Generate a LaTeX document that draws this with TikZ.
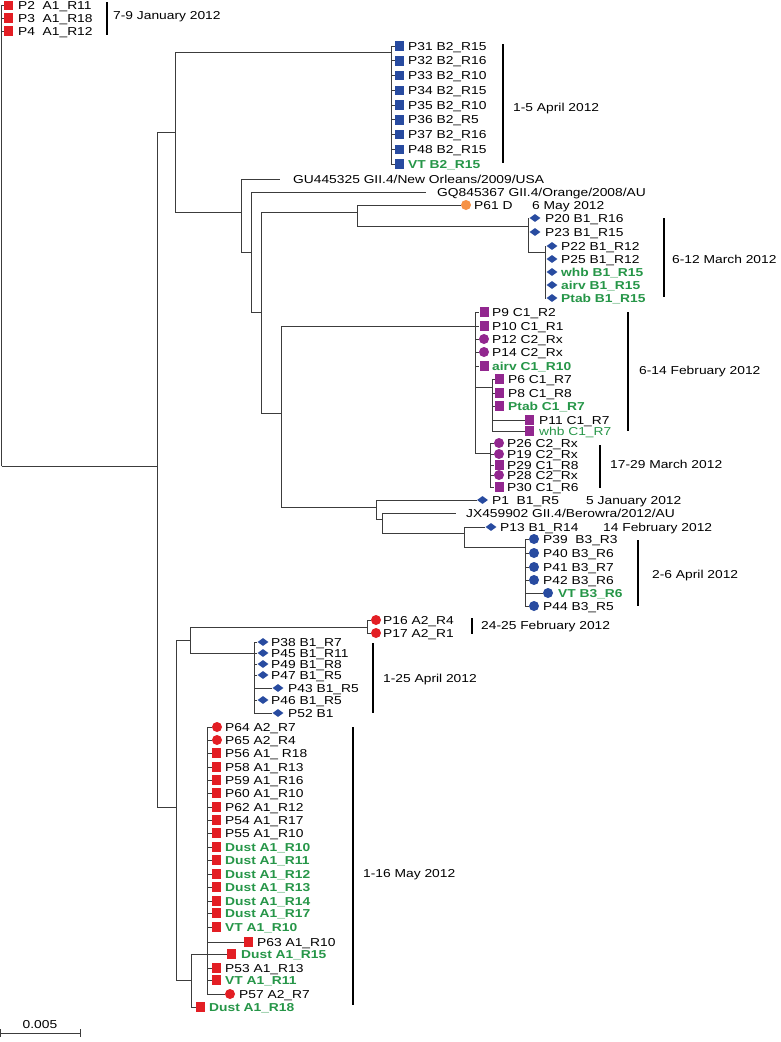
\documentclass[tikz,border=0pt]{standalone}
\usepackage{fontspec}
\setmainfont{Liberation Sans}[FakeStretch=1.2]
\usetikzlibrary{shapes.geometric}
\definecolor{cred}{RGB}{227,30,36}
\definecolor{cblue}{RGB}{40,75,160}
\definecolor{cpurp}{RGB}{146,39,143}
\definecolor{corange}{RGB}{246,146,70}
\definecolor{cgreen}{RGB}{38,150,72}
\definecolor{cline}{RGB}{60,60,60}
\newcommand\lblfont{\fontsize{11.5}{13}\selectfont}
\newcommand\mkleaf[7]{\node[#2] (#1) at (#3,#4) {}; \node[#6] (#1t) at (#5,#4) {#7};}
\newcommand\mkbracket[7]{\coordinate (#1a) at (#2,#3); \coordinate (#1b) at (#2,#4); \draw[bk] (#1a) -- (#1b); \node[lbl] (#1t) at (#5,#6) {#7};}
\tikzset{
 br/.style={draw=cline, line width=0.8pt},
 bk/.style={draw=black, line width=1.3pt},
 lbl/.style={anchor=west, inner sep=0pt, text height=8.2pt, text depth=0pt, font=\lblfont},
 glbl/.style={lbl, text=cgreen, font=\lblfont\bfseries},
 gnl/.style={lbl, text=cgreen},
 sq/.style={rectangle, fill=#1, minimum width=9pt, minimum height=9.5pt, inner sep=0pt},
 dt/.style={circle, fill=#1, minimum size=10pt, inner sep=0pt},
 dm/.style={diamond, fill=#1, minimum width=11pt, minimum height=8pt, inner sep=0pt},
}
\begin{document}
\begin{tikzpicture}[x=1pt,y=-1pt]
\useasboundingbox[fill=white] (0,0) rectangle (780,1042);

% ---------- leaves ----------
\mkleaf{P2}{sq=cred}{8.5}{5.5}{18}{lbl}{P2~~A1\_R11}
\mkleaf{P3}{sq=cred}{8.5}{18}{18}{lbl}{P3~~A1\_R18}
\mkleaf{P4}{sq=cred}{8.5}{31}{18}{lbl}{P4~~A1\_R12}

\mkleaf{P31}{sq=cblue}{399.5}{46}{408}{lbl}{P31 B2\_R15}
\mkleaf{P32}{sq=cblue}{399.5}{60.75}{408}{lbl}{P32 B2\_R16}
\mkleaf{P33}{sq=cblue}{399.5}{75.5}{408}{lbl}{P33 B2\_R10}
\mkleaf{P34}{sq=cblue}{399.5}{90.25}{408}{lbl}{P34 B2\_R15}
\mkleaf{P35}{sq=cblue}{399.5}{105}{408}{lbl}{P35 B2\_R10}
\mkleaf{P36}{sq=cblue}{399.5}{119.75}{408}{lbl}{P36 B2\_R5}
\mkleaf{P37}{sq=cblue}{399.5}{134.5}{408}{lbl}{P37 B2\_R16}
\mkleaf{P48}{sq=cblue}{399.5}{149.25}{408}{lbl}{P48 B2\_R15}
\mkleaf{VTB2}{sq=cblue}{399.5}{164}{408}{glbl}{VT B2\_R15}

\coordinate (GUe) at (280,179);
\node[lbl] (GUt) at (293,179) {GU445325 GII.4/New Orleans/2009/USA};
\coordinate (GQe) at (426,192);
\node[lbl] (GQt) at (437,192) {GQ845367 GII.4/Orange/2008/AU};

\mkleaf{P61}{dt=corange}{466}{205}{474}{lbl}{P61 D}
\mkleaf{P20}{dm=cblue}{535}{218}{545}{lbl}{P20 B1\_R16}
\mkleaf{P23}{dm=cblue}{535}{232}{545}{lbl}{P23 B1\_R15}
\mkleaf{P22}{dm=cblue}{552}{246}{561}{lbl}{P22 B1\_R12}
\mkleaf{P25}{dm=cblue}{552}{259}{561}{lbl}{P25 B1\_R12}
\mkleaf{whbB}{dm=cblue}{552}{272}{561}{glbl}{whb B1\_R15}
\mkleaf{airvB}{dm=cblue}{552}{285}{561}{glbl}{airv B1\_R15}
\mkleaf{PtabB}{dm=cblue}{552}{298}{561}{glbl}{Ptab B1\_R15}

\mkleaf{P9}{sq=cpurp}{484}{312}{492}{lbl}{P9 C1\_R2}
\mkleaf{P10}{sq=cpurp}{484}{326}{492}{lbl}{P10 C1\_R1}
\mkleaf{P12}{dt=cpurp}{484}{339}{492}{lbl}{P12 C2\_Rx}
\mkleaf{P14}{dt=cpurp}{484}{352}{492}{lbl}{P14 C2\_Rx}
\mkleaf{airvC}{sq=cpurp}{484}{366}{492}{glbl}{airv C1\_R10}
\mkleaf{P6}{sq=cpurp}{499.5}{379}{508}{lbl}{P6 C1\_R7}
\mkleaf{P8}{sq=cpurp}{499.5}{393}{508}{lbl}{P8 C1\_R8}
\mkleaf{PtabC}{sq=cpurp}{499.5}{406}{508}{glbl}{Ptab C1\_R7}
\mkleaf{P11}{sq=cpurp}{529.5}{420}{539}{lbl}{P11 C1\_R7}
\mkleaf{whbC}{sq=cpurp}{529.5}{431}{539}{gnl}{whb C1\_R7}

\mkleaf{P26}{dt=cpurp}{499}{443}{507}{lbl}{P26 C2\_Rx}
\mkleaf{P19}{dt=cpurp}{499}{454}{507}{lbl}{P19 C2\_Rx}
\mkleaf{P29}{sq=cpurp}{499}{465}{507}{lbl}{P29 C1\_R8}
\mkleaf{P28}{dt=cpurp}{499}{475}{507}{lbl}{P28 C2\_Rx}
\mkleaf{P30}{sq=cpurp}{499}{487}{507}{lbl}{P30 C1\_R6}

\mkleaf{P1}{dm=cblue}{482.5}{500}{492}{lbl}{P1~~B1\_R5}
\coordinate (JXe) at (456,513);
\node[lbl] (JXt) at (466,513) {JX459902 GII.4/Berowra/2012/AU};
\mkleaf{P13}{dm=cblue}{491}{527}{500}{lbl}{P13 B1\_R14}

\mkleaf{P39}{dt=cblue}{534}{539}{543}{lbl}{P39~~B3\_R3}
\mkleaf{P40}{dt=cblue}{534}{553}{543}{lbl}{P40 B3\_R6}
\mkleaf{P41}{dt=cblue}{534}{567}{543}{lbl}{P41 B3\_R7}
\mkleaf{P42}{dt=cblue}{534}{580}{543}{lbl}{P42 B3\_R6}
\mkleaf{VTB3}{dt=cblue}{548}{593}{558}{glbl}{VT B3\_R6}
\mkleaf{P44}{dt=cblue}{534}{606}{543}{lbl}{P44 B3\_R5}

\mkleaf{P16}{dt=cred}{376}{620}{383}{lbl}{P16 A2\_R4}
\mkleaf{P17}{dt=cred}{376}{633}{383}{lbl}{P17 A2\_R1}

\mkleaf{P38}{dm=cblue}{263}{642}{271}{lbl}{P38 B1\_R7}
\mkleaf{P45}{dm=cblue}{263}{653}{271}{lbl}{P45 B1\_R11}
\mkleaf{P49}{dm=cblue}{263}{664}{271}{lbl}{P49 B1\_R8}
\mkleaf{P47}{dm=cblue}{263}{675}{271}{lbl}{P47 B1\_R5}
\mkleaf{P43}{dm=cblue}{278}{688}{288}{lbl}{P43 B1\_R5}
\mkleaf{P46}{dm=cblue}{263}{700}{271}{lbl}{P46 B1\_R5}
\mkleaf{P52}{dm=cblue}{278}{713}{288}{lbl}{P52 B1}

\mkleaf{P64}{dt=cred}{217}{727}{225}{lbl}{P64 A2\_R7}
\mkleaf{P65}{dt=cred}{217}{740}{225}{lbl}{P65 A2\_R4}
\mkleaf{P56}{sq=cred}{216.5}{753}{225}{lbl}{P56 A1\_ R18}
\mkleaf{P58}{sq=cred}{216.5}{767}{225}{lbl}{P58 A1\_R13}
\mkleaf{P59}{sq=cred}{216.5}{780}{225}{lbl}{P59 A1\_R16}
\mkleaf{P60}{sq=cred}{216.5}{793}{225}{lbl}{P60 A1\_R10}
\mkleaf{P62}{sq=cred}{216.5}{807}{225}{lbl}{P62 A1\_R12}
\mkleaf{P54}{sq=cred}{216.5}{820}{225}{lbl}{P54 A1\_R17}
\mkleaf{P55}{sq=cred}{216.5}{833}{225}{lbl}{P55 A1\_R10}
\mkleaf{D10}{sq=cred}{216.5}{847}{225}{glbl}{Dust A1\_R10}
\mkleaf{D11}{sq=cred}{216.5}{860}{225}{glbl}{Dust A1\_R11}
\mkleaf{D12}{sq=cred}{216.5}{874}{225}{glbl}{Dust A1\_R12}
\mkleaf{D13}{sq=cred}{216.5}{887}{225}{glbl}{Dust A1\_R13}
\mkleaf{D14}{sq=cred}{216.5}{901}{225}{glbl}{Dust A1\_R14}
\mkleaf{D17}{sq=cred}{216.5}{913}{225}{glbl}{Dust A1\_R17}
\mkleaf{VT10}{sq=cred}{216.5}{927}{225}{glbl}{VT A1\_R10}
\mkleaf{P63}{sq=cred}{248.5}{942}{257}{lbl}{P63 A1\_R10}
\mkleaf{D15}{sq=cred}{231.5}{954}{241}{glbl}{Dust A1\_R15}
\mkleaf{P53}{sq=cred}{216.5}{968}{225}{lbl}{P53 A1\_R13}
\mkleaf{VT11}{sq=cred}{216.5}{980}{225}{glbl}{VT A1\_R11}
\mkleaf{P57}{dt=cred}{230}{994}{239}{lbl}{P57 A2\_R7}
\mkleaf{D18}{sq=cred}{200.5}{1007}{209}{glbl}{Dust A1\_R18}

% ---------- internal nodes ----------
\coordinate (R) at (1.5,466);
\coordinate (N157) at (157,466);
\coordinate (N175) at (175,132);
\coordinate (N391) at (391,52);
\coordinate (N241) at (241,212);
\coordinate (N251) at (251,252);
\coordinate (N261) at (261,312);
\coordinate (N357) at (357,212);
\coordinate (N528) at (528,226);
\coordinate (N545) at (545,252);
\coordinate (N281) at (281,413);
\coordinate (N475) at (475,326);
\coordinate (N492) at (492,387);
\coordinate (N490) at (490,453);
\coordinate (N376) at (376,507);
\coordinate (N382) at (382,519);
\coordinate (N464) at (464,533);
\coordinate (N525) at (525,547);
\coordinate (N176) at (176,807);
\coordinate (N190) at (190,640);
\coordinate (N367) at (367,627);
\coordinate (N254) at (254,653);
\coordinate (N191) at (191,980);
\coordinate (N207) at (207,954);

% ---------- branches ----------
\foreach \c in {P2,P3,P4} \draw[br] (R) |- (\c.west);
\draw[br] (R) |- (N157);
\draw[br] (N157) |- (N175);
\draw[br] (N157) |- (N176);
\draw[br] (N175) |- (N391);
\draw[br] (N175) |- (N241);
\foreach \c in {P31,P32,P33,P34,P35,P36,P37,P48,VTB2} \draw[br] (N391) |- (\c.west);
\draw[br] (N241) |- (GUe);
\draw[br] (N241) |- (N251);
\draw[br] (N251) |- (GQe);
\draw[br] (N251) |- (N261);
\draw[br] (N261) |- (N357);
\draw[br] (N261) |- (N281);
\draw[br] (N357) |- (P61.west);
\draw[br] (N357) |- (N528);
\foreach \c in {P20,P23} \draw[br] (N528) |- (\c.west);
\draw[br] (N528) |- (N545);
\foreach \c in {P22,P25,whbB,airvB,PtabB} \draw[br] (N545) |- (\c.west);
\draw[br] (N281) |- (N475);
\draw[br] (N281) |- (N376);
\foreach \c in {P9,P10,P12,P14,airvC} \draw[br] (N475) |- (\c.west);
\draw[br] (N475) |- (N492);
\draw[br] (N475) |- (N490);
\foreach \c in {P6,P8,PtabC,P11,whbC} \draw[br] (N492) |- (\c.west);
\foreach \c in {P26,P19,P29,P28,P30} \draw[br] (N490) |- (\c.west);
\draw[br] (N376) |- (P1.west);
\draw[br] (N376) |- (N382);
\draw[br] (N382) |- (JXe);
\draw[br] (N382) |- (N464);
\draw[br] (N464) |- (P13.west);
\draw[br] (N464) |- (N525);
\foreach \c in {P39,P40,P41,P42,VTB3,P44} \draw[br] (N525) |- (\c.west);
\draw[br] (N176) |- (N190);
\draw[br] (N176) |- (N191);
\draw[br] (N190) |- (N367);
\draw[br] (N190) |- (N254);
\foreach \c in {P16,P17} \draw[br] (N367) |- (\c.west);
\foreach \c in {P38,P45,P49,P47,P43,P46,P52} \draw[br] (N254) |- (\c.west);
\draw[br] (N191) |- (N207);
\draw[br] (N191) |- (D18.west);
\foreach \c in {P64,P65,P56,P58,P59,P60,P62,P54,P55,D10,D11,D12,D13,D14,D17,VT10,P63,D15,P53,VT11,P57} \draw[br] (N207) |- (\c.west);

% ---------- brackets and dates ----------
\mkbracket{bJan}{107}{2}{35}{113}{15}{7-9 January 2012}
\mkbracket{bApr}{503}{44}{163}{513}{107}{1-5 April 2012}
\node[lbl] (may6) at (532,205) {6 May 2012};
\mkbracket{bMar}{664}{218}{297}{672}{259}{6-12 March 2012}
\mkbracket{bFeb}{628}{312}{431}{639}{370}{6-14 February 2012}
\mkbracket{bMar2}{600}{445}{488}{610}{464}{17-29 March 2012}
\node[lbl] (jan5) at (586,500) {5 January 2012};
\node[lbl] (feb14) at (603,527) {14 February 2012};
\mkbracket{bApr2}{638}{540}{606}{652}{574}{2-6 April 2012}
\mkbracket{bFeb2}{472}{618}{634}{481}{625}{24-25 February 2012}
\mkbracket{bApr3}{373}{643}{713}{383}{678}{1-25 April 2012}
\mkbracket{bMay}{353}{727}{1005}{363}{873}{1-16 May 2012}

% ---------- scale bar ----------
\coordinate (sbL) at (0.5,1033);
\coordinate (sbR) at (80,1033);
\draw[br] (sbL) -- (sbR);
\draw[br] (sbL) ++(0,-4) -- ++(0,8);
\draw[br] (sbR) ++(0,-4) -- ++(0,8);
\node[lbl, anchor=south] (sbt) at (40,1029) {0.005};
\end{tikzpicture}
\end{document}
